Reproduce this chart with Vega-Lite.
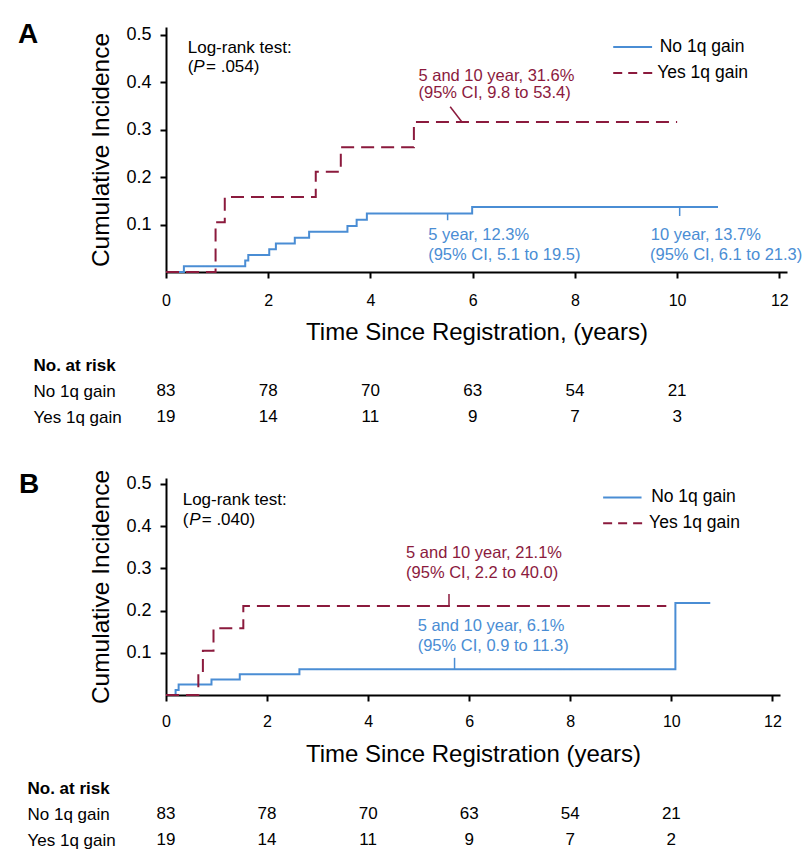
{
  "$schema": "https://vega.github.io/schema/vega-lite/v6.json",
  "padding": {"left": 18, "top": 20, "right": 5, "bottom": 5},
  "background": "white",
  "config": {
    "font": "Liberation Sans",
    "view": {"stroke": null},
    "axis": {"grid": false, "domainColor": "#000", "tickColor": "#000", "labelColor": "#000", "titleColor": "#000", "domainWidth": 2, "tickWidth": 2, "titleFontWeight": "normal", "labelFlush": false, "labelOverlap": false},
    "text": {"font": "Liberation Sans"}
  },
  "datasets": {
    "curvesA": [
      {"group": "No 1q gain", "t": 0, "ci": 0},
      {"group": "No 1q gain", "t": 0.35, "ci": 0.012},
      {"group": "No 1q gain", "t": 1.55, "ci": 0.024},
      {"group": "No 1q gain", "t": 1.61, "ci": 0.036},
      {"group": "No 1q gain", "t": 2.02, "ci": 0.048},
      {"group": "No 1q gain", "t": 2.15, "ci": 0.060},
      {"group": "No 1q gain", "t": 2.52, "ci": 0.072},
      {"group": "No 1q gain", "t": 2.80, "ci": 0.085},
      {"group": "No 1q gain", "t": 3.55, "ci": 0.097},
      {"group": "No 1q gain", "t": 3.73, "ci": 0.110},
      {"group": "No 1q gain", "t": 3.93, "ci": 0.123},
      {"group": "No 1q gain", "t": 5.99, "ci": 0.137},
      {"group": "No 1q gain", "t": 10.8, "ci": 0.137},
      {"group": "Yes 1q gain", "t": 0, "ci": 0},
      {"group": "Yes 1q gain", "t": 0.97, "ci": 0.105},
      {"group": "Yes 1q gain", "t": 1.15, "ci": 0.158},
      {"group": "Yes 1q gain", "t": 2.93, "ci": 0.211},
      {"group": "Yes 1q gain", "t": 3.42, "ci": 0.263},
      {"group": "Yes 1q gain", "t": 4.85, "ci": 0.316},
      {"group": "Yes 1q gain", "t": 10.0, "ci": 0.316}
    ],
    "curvesB": [
      {"group": "No 1q gain", "t": 0, "ci": 0},
      {"group": "No 1q gain", "t": 0.19, "ci": 0.012},
      {"group": "No 1q gain", "t": 0.25, "ci": 0.025},
      {"group": "No 1q gain", "t": 0.90, "ci": 0.037},
      {"group": "No 1q gain", "t": 1.46, "ci": 0.049},
      {"group": "No 1q gain", "t": 2.64, "ci": 0.061},
      {"group": "No 1q gain", "t": 10.08, "ci": 0.218},
      {"group": "No 1q gain", "t": 10.77, "ci": 0.218},
      {"group": "Yes 1q gain", "t": 0, "ci": 0},
      {"group": "Yes 1q gain", "t": 0.64, "ci": 0.053},
      {"group": "Yes 1q gain", "t": 0.73, "ci": 0.105},
      {"group": "Yes 1q gain", "t": 0.94, "ci": 0.158},
      {"group": "Yes 1q gain", "t": 1.53, "ci": 0.211},
      {"group": "Yes 1q gain", "t": 9.9, "ci": 0.211}
    ],
    "leadersA": [
      {"group": "Yes 1q gain", "x": 5.56, "y": 0.348, "x2": 5.79, "y2": 0.316},
      {"group": "No 1q gain", "x": 5.51, "y": 0.123, "x2": 5.51, "y2": 0.109},
      {"group": "No 1q gain", "x": 10.05, "y": 0.137, "x2": 10.05, "y2": 0.118}
    ],
    "leadersB": [
      {"group": "Yes 1q gain", "x": 5.6, "y": 0.211, "x2": 5.6, "y2": 0.2395},
      {"group": "No 1q gain", "x": 5.71, "y": 0.061, "x2": 5.71, "y2": 0.088}
    ],
    "notesA": [
      {"group": "Yes 1q gain", "x": 4.94, "y": 0.4126, "label": "5 and 10 year, 31.6%"},
      {"group": "Yes 1q gain", "x": 4.94, "y": 0.376, "label": "(95% CI, 9.8 to 53.4)"},
      {"group": "No 1q gain", "x": 5.13, "y": 0.0779, "label": "5 year, 12.3%"},
      {"group": "No 1q gain", "x": 5.13, "y": 0.0358, "label": "(95% CI, 5.1 to 19.5)"},
      {"group": "No 1q gain", "x": 9.485, "y": 0.0779, "label": "10 year, 13.7%"},
      {"group": "No 1q gain", "x": 9.47, "y": 0.0358, "label": "(95% CI, 6.1 to 21.3)"}
    ],
    "notesB": [
      {"group": "Yes 1q gain", "x": 4.75, "y": 0.3364, "label": "5 and 10 year, 21.1%"},
      {"group": "Yes 1q gain", "x": 4.75, "y": 0.289, "label": "(95% CI, 2.2 to 40.0)"},
      {"group": "No 1q gain", "x": 4.98, "y": 0.163, "label": "5 and 10 year, 6.1%"},
      {"group": "No 1q gain", "x": 4.98, "y": 0.1158, "label": "(95% CI, 0.9 to 11.3)"}
    ],
    "legendA": [
      {"group": "No 1q gain", "x": 8.75, "x2": 9.51, "y": 0.474, "lx": 9.66},
      {"group": "Yes 1q gain", "x": 8.75, "x2": 9.55, "y": 0.419, "lx": 9.61}
    ],
    "legendB": [
      {"group": "No 1q gain", "x": 8.65, "x2": 9.41, "y": 0.468, "lx": 9.6},
      {"group": "Yes 1q gain", "x": 8.65, "x2": 9.45, "y": 0.407, "lx": 9.56}
    ],
    "testA": [
      {"role": "text", "x": 0.425, "y": 0.4716, "label": "Log-rank test:"},
      {"role": "text", "x": 0.425, "y": 0.4316, "label": "("},
      {"role": "var", "x": 0.534, "y": 0.4316, "label": "P"},
      {"role": "text", "x": 0.783, "y": 0.4316, "label": "= .054)"}
    ],
    "testB": [
      {"role": "text", "x": 0.33, "y": 0.4626, "label": "Log-rank test:"},
      {"role": "text", "x": 0.33, "y": 0.415, "label": "("},
      {"role": "var", "x": 0.46, "y": 0.415, "label": "P"},
      {"role": "text", "x": 0.707, "y": 0.415, "label": "= .040)"}
    ],
    "riskA": [
      {"group": "No 1q gain", "t": 0, "n": 83},
      {"group": "No 1q gain", "t": 2, "n": 78},
      {"group": "No 1q gain", "t": 4, "n": 70},
      {"group": "No 1q gain", "t": 6, "n": 63},
      {"group": "No 1q gain", "t": 8, "n": 54},
      {"group": "No 1q gain", "t": 10, "n": 21},
      {"group": "Yes 1q gain", "t": 0, "n": 19},
      {"group": "Yes 1q gain", "t": 2, "n": 14},
      {"group": "Yes 1q gain", "t": 4, "n": 11},
      {"group": "Yes 1q gain", "t": 6, "n": 9},
      {"group": "Yes 1q gain", "t": 8, "n": 7},
      {"group": "Yes 1q gain", "t": 10, "n": 3}
    ],
    "riskB": [
      {"group": "No 1q gain", "t": 0, "n": 83},
      {"group": "No 1q gain", "t": 2, "n": 78},
      {"group": "No 1q gain", "t": 4, "n": 70},
      {"group": "No 1q gain", "t": 6, "n": 63},
      {"group": "No 1q gain", "t": 8, "n": 54},
      {"group": "No 1q gain", "t": 10, "n": 21},
      {"group": "Yes 1q gain", "t": 0, "n": 19},
      {"group": "Yes 1q gain", "t": 2, "n": 14},
      {"group": "Yes 1q gain", "t": 4, "n": 11},
      {"group": "Yes 1q gain", "t": 6, "n": 9},
      {"group": "Yes 1q gain", "t": 8, "n": 7},
      {"group": "Yes 1q gain", "t": 10, "n": 2}
    ]
  },
  "spacing": 39,
  "vconcat": [
    {
      "spacing": 8,
      "vconcat": [
        {
          "width": 621,
          "height": 245,
          "title": {"text": "A", "anchor": "start", "frame": "group", "fontSize": 28, "fontWeight": "bold", "color": "#000", "dx": -148, "offset": -17, "baseline": "middle", "dy": 20},
          "layer": [
            {
              "data": {"name": "curvesA"},
              "mark": {"type": "line", "interpolate": "step-after", "strokeWidth": 2},
              "encoding": {
                "x": {"field": "t", "type": "quantitative", "scale": {"domain": [0, 12.15], "nice": false, "zero": false},
                  "axis": {"values": [0, 2, 4, 6, 8, 10, 12], "format": "d", "labelFontSize": 16, "tickSize": 6, "labelPadding": 14, "title": "Time Since Registration, (years)", "titleFontSize": 24, "titlePadding": 12}},
                "y": {"field": "ci", "type": "quantitative", "scale": {"domain": [0, 0.516], "nice": false},
                  "axis": {"values": [0.1, 0.2, 0.3, 0.4, 0.5], "format": ".1f", "labelFontSize": 18, "tickSize": 6, "labelPadding": 9, "title": "Cumulative Incidence", "titleFontSize": 24.5, "titlePadding": 12}},
                "color": {"field": "group", "type": "nominal", "scale": {"domain": ["No 1q gain", "Yes 1q gain"], "range": ["#4a8dd4", "#8b1a3d"]}, "legend": null},
                "strokeDash": {"field": "group", "type": "nominal", "scale": {"domain": ["No 1q gain", "Yes 1q gain"], "range": [[1, 0], [13, 7]]}, "legend": null}
              }
            },
            {
              "data": {"name": "leadersA"},
              "mark": {"type": "rule", "strokeWidth": 1.5},
              "encoding": {
                "x": {"field": "x", "type": "quantitative"},
                "y": {"field": "y", "type": "quantitative"},
                "x2": {"field": "x2"},
                "y2": {"field": "y2"},
                "color": {"field": "group", "type": "nominal", "legend": null}
              }
            },
            {
              "data": {"name": "notesA"},
              "mark": {"type": "text", "align": "left", "baseline": "middle", "fontSize": 16.5},
              "encoding": {
                "x": {"field": "x", "type": "quantitative"},
                "y": {"field": "y", "type": "quantitative"},
                "text": {"field": "label"},
                "color": {"field": "group", "type": "nominal", "legend": null}
              }
            },
            {
              "data": {"name": "legendA"},
              "transform": [{"filter": "datum.group === 'No 1q gain'"}],
              "mark": {"type": "rule", "strokeWidth": 2},
              "encoding": {
                "x": {"field": "x", "type": "quantitative"},
                "x2": {"field": "x2"},
                "y": {"field": "y", "type": "quantitative"},
                "color": {"field": "group", "type": "nominal", "legend": null}
              }
            },
            {
              "data": {"name": "legendA"},
              "transform": [{"filter": "datum.group === 'Yes 1q gain'"}],
              "mark": {"type": "rule", "strokeWidth": 2, "strokeDash": [9, 6]},
              "encoding": {
                "x": {"field": "x", "type": "quantitative"},
                "x2": {"field": "x2"},
                "y": {"field": "y", "type": "quantitative"},
                "color": {"field": "group", "type": "nominal", "legend": null}
              }
            },
            {
              "data": {"name": "legendA"},
              "mark": {"type": "text", "align": "left", "baseline": "middle", "fontSize": 17.5, "color": "#000"},
              "encoding": {
                "x": {"field": "lx", "type": "quantitative"},
                "y": {"field": "y", "type": "quantitative"},
                "text": {"field": "group"}
              }
            },
            {
              "data": {"name": "testA"},
              "transform": [{"filter": "datum.role === 'text'"}],
              "mark": {"type": "text", "align": "left", "baseline": "middle", "fontSize": 17, "color": "#000"},
              "encoding": {
                "x": {"field": "x", "type": "quantitative"},
                "y": {"field": "y", "type": "quantitative"},
                "text": {"field": "label"}
              }
            },
            {
              "data": {"name": "testA"},
              "transform": [{"filter": "datum.role === 'var'"}],
              "mark": {"type": "text", "align": "left", "baseline": "middle", "fontSize": 17, "fontStyle": "italic", "color": "#000"},
              "encoding": {
                "x": {"field": "x", "type": "quantitative"},
                "y": {"field": "y", "type": "quantitative"},
                "text": {"field": "label"}
              }
            }
          ]
        },
        {
          "width": 621,
          "height": 78,
          "data": {"name": "riskA"},
          "mark": {"type": "text", "fontSize": 17, "baseline": "middle", "color": "#000"},
          "encoding": {
            "x": {"field": "t", "type": "quantitative", "scale": {"domain": [0, 12.15], "nice": false, "zero": false}, "axis": null},
            "y": {"field": "group", "type": "nominal", "scale": {"domain": ["No. at risk", "No 1q gain", "Yes 1q gain"]},
              "axis": {"title": null, "domain": false, "ticks": false, "tickSize": 0, "labelAlign": "left", "labelPadding": 133, "labelFontSize": 17, "labelLimit": 300,
                "labelFontWeight": {"condition": {"test": "datum.value === 'No. at risk'", "value": "bold"}, "value": "normal"}}},
            "text": {"field": "n", "type": "quantitative"}
          }
        }
      ]
    },
    {
      "spacing": 9,
      "vconcat": [
        {
          "width": 614,
          "height": 217,
          "title": {"text": "B", "anchor": "start", "frame": "group", "fontSize": 28, "fontWeight": "bold", "color": "#000", "dx": -147, "offset": -24, "baseline": "middle", "dy": 20},
          "layer": [
            {
              "data": {"name": "curvesB"},
              "mark": {"type": "line", "interpolate": "step-after", "strokeWidth": 2},
              "encoding": {
                "x": {"field": "t", "type": "quantitative", "scale": {"domain": [0, 12.15], "nice": false, "zero": false},
                  "axis": {"values": [0, 2, 4, 6, 8, 10, 12], "format": "d", "labelFontSize": 16, "tickSize": 6, "labelPadding": 12, "title": "Time Since Registration (years)", "titleFontSize": 24, "titlePadding": 13}},
                "y": {"field": "ci", "type": "quantitative", "scale": {"domain": [0, 0.514], "nice": false},
                  "axis": {"values": [0.1, 0.2, 0.3, 0.4, 0.5], "format": ".1f", "labelFontSize": 18, "tickSize": 6, "labelPadding": 9, "title": "Cumulative Incidence", "titleFontSize": 24.5, "titlePadding": 12}},
                "color": {"field": "group", "type": "nominal", "scale": {"domain": ["No 1q gain", "Yes 1q gain"], "range": ["#4a8dd4", "#8b1a3d"]}, "legend": null},
                "strokeDash": {"field": "group", "type": "nominal", "scale": {"domain": ["No 1q gain", "Yes 1q gain"], "range": [[1, 0], [13, 7]]}, "legend": null}
              }
            },
            {
              "data": {"name": "leadersB"},
              "mark": {"type": "rule", "strokeWidth": 1.5},
              "encoding": {
                "x": {"field": "x", "type": "quantitative"},
                "y": {"field": "y", "type": "quantitative"},
                "x2": {"field": "x2"},
                "y2": {"field": "y2"},
                "color": {"field": "group", "type": "nominal", "legend": null}
              }
            },
            {
              "data": {"name": "notesB"},
              "mark": {"type": "text", "align": "left", "baseline": "middle", "fontSize": 16.5},
              "encoding": {
                "x": {"field": "x", "type": "quantitative"},
                "y": {"field": "y", "type": "quantitative"},
                "text": {"field": "label"},
                "color": {"field": "group", "type": "nominal", "legend": null}
              }
            },
            {
              "data": {"name": "legendB"},
              "transform": [{"filter": "datum.group === 'No 1q gain'"}],
              "mark": {"type": "rule", "strokeWidth": 2},
              "encoding": {
                "x": {"field": "x", "type": "quantitative"},
                "x2": {"field": "x2"},
                "y": {"field": "y", "type": "quantitative"},
                "color": {"field": "group", "type": "nominal", "legend": null}
              }
            },
            {
              "data": {"name": "legendB"},
              "transform": [{"filter": "datum.group === 'Yes 1q gain'"}],
              "mark": {"type": "rule", "strokeWidth": 2, "strokeDash": [9, 6]},
              "encoding": {
                "x": {"field": "x", "type": "quantitative"},
                "x2": {"field": "x2"},
                "y": {"field": "y", "type": "quantitative"},
                "color": {"field": "group", "type": "nominal", "legend": null}
              }
            },
            {
              "data": {"name": "legendB"},
              "mark": {"type": "text", "align": "left", "baseline": "middle", "fontSize": 17.5, "color": "#000"},
              "encoding": {
                "x": {"field": "lx", "type": "quantitative"},
                "y": {"field": "y", "type": "quantitative"},
                "text": {"field": "group"}
              }
            },
            {
              "data": {"name": "testB"},
              "transform": [{"filter": "datum.role === 'text'"}],
              "mark": {"type": "text", "align": "left", "baseline": "middle", "fontSize": 17, "color": "#000"},
              "encoding": {
                "x": {"field": "x", "type": "quantitative"},
                "y": {"field": "y", "type": "quantitative"},
                "text": {"field": "label"}
              }
            },
            {
              "data": {"name": "testB"},
              "transform": [{"filter": "datum.role === 'var'"}],
              "mark": {"type": "text", "align": "left", "baseline": "middle", "fontSize": 17, "fontStyle": "italic", "color": "#000"},
              "encoding": {
                "x": {"field": "x", "type": "quantitative"},
                "y": {"field": "y", "type": "quantitative"},
                "text": {"field": "label"}
              }
            }
          ]
        },
        {
          "width": 614,
          "height": 78,
          "data": {"name": "riskB"},
          "mark": {"type": "text", "fontSize": 17, "baseline": "middle", "color": "#000"},
          "encoding": {
            "x": {"field": "t", "type": "quantitative", "scale": {"domain": [0, 12.15], "nice": false, "zero": false}, "axis": null},
            "y": {"field": "group", "type": "nominal", "scale": {"domain": ["No. at risk", "No 1q gain", "Yes 1q gain"]},
              "axis": {"title": null, "domain": false, "ticks": false, "tickSize": 0, "labelAlign": "left", "labelPadding": 139, "labelFontSize": 17, "labelLimit": 300,
                "labelFontWeight": {"condition": {"test": "datum.value === 'No. at risk'", "value": "bold"}, "value": "normal"}}},
            "text": {"field": "n", "type": "quantitative"}
          }
        }
      ]
    }
  ]
}
